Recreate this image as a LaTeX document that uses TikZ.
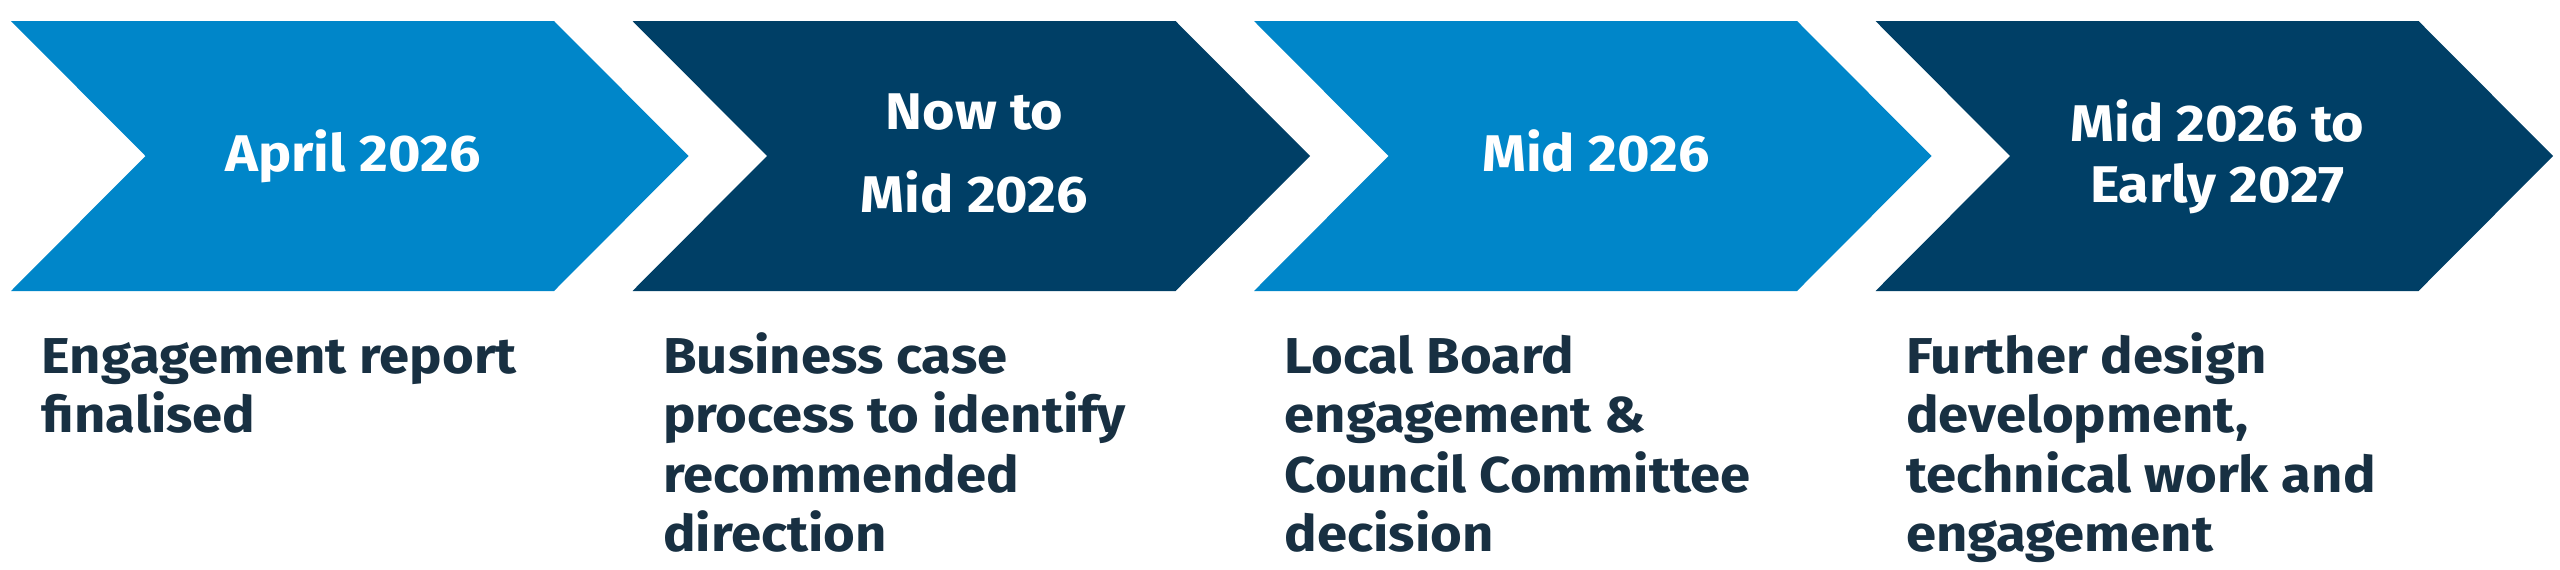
\documentclass[tikz,border=0pt]{standalone}
\usepackage{fontspec}
\setmainfont[FakeStretch=1.08]{Fira Sans}
\newfontfamily\headfont[FakeStretch=1.08]{Fira Sans}
\definecolor{lightblue}{HTML}{0086C9}
\definecolor{navyblue}{HTML}{003F66}
\definecolor{textnavy}{HTML}{183042}
\tikzset{
  chev/.style={fill=#1, draw=none},
  headtext/.style={text=white, font=\headfont\bfseries\fontsize{12.9}{15.25}\selectfont, align=center, anchor=base, inner sep=0pt},
  headwide/.style={headtext, font=\headfont\bfseries\fontsize{12.9}{20.75}\selectfont},
  bodytext/.style={text=textnavy, font=\bfseries\fontsize{12.6}{14.875}\selectfont, align=left, anchor=base west, inner sep=0pt}
}
\begin{document}
\begin{tikzpicture}[x=0.25pt, y=-0.25pt]
\useasboundingbox (0,0) rectangle (2560,569);
% chevrons
\foreach \L/\c/\n in {11/lightblue/c1, 632.5/navyblue/c2, 1254/lightblue/c3, 1875.5/navyblue/c4}{
  \fill[chev=\c] (\L,21) -- ++(543,0) -- ++(134.5,135) -- ++(-134.5,135) -- ++(-543,0) -- ++(134.5,-135) -- cycle;
}
% headings (anchor = baseline of last line)
\node[headtext] (h1) at (353,171) {April 2026};
\node[headwide] (h2) at (974.5,212.5) {Now to\\Mid 2026};
\node[headtext] (h3) at (1596,171) {Mid 2026};
\node[headtext] (h4) at (2217.5,202) {Mid 2026 to\\Early 2027};
% descriptions (anchor = baseline of last line)
\node[bodytext] (d1) at (41,432.5) {Engagement report\\finalised};
\node[bodytext] (d2) at (662.5,551.5) {Business case\\process to identify\\recommended\\direction};
\node[bodytext] (d3) at (1284,551.5) {Local Board\\engagement \&\\Council Committee\\decision};
\node[bodytext] (d4) at (1905.5,551.5) {Further design\\development,\\technical work and\\engagement};
\end{tikzpicture}
\end{document}
